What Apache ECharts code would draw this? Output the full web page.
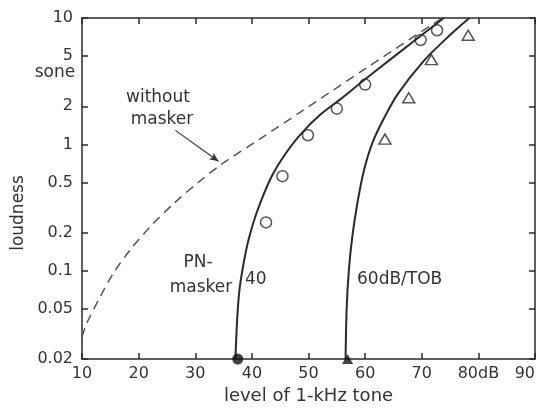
<!DOCTYPE html>
<html>
<head>
<meta charset="utf-8">
<script src="https://cdn.jsdelivr.net/npm/echarts@6/dist/echarts.min.js"></script>
<style>
  html, body { margin: 0; padding: 0; background: #fff; }
  #chart { width: 542px; height: 408px; }
</style>
</head>
<body>
<div id="chart"></div>
<script>
// axis ticks
const xTicks = [10, 20, 30, 40, 50, 60, 70, 80, 90];
const xTickLabels = ['10', '20', '30', '40', '50', '60', '70', '80dB', '90'];
const yTicks = [0.02, 0.05, 0.1, 0.2, 0.5, 1, 2, 5, 10];
const yTickLabels = ['0.02', '0.05', '0.1', '0.2', '0.5', '1', '2', '5', '10'];

// without masker (dashed curve)
const quietLevel = [10, 10.8, 13.2, 15.5, 18.5, 22.0, 26.2, 30.3, 34.4, 41.5, 48.5, 60.4, 73.6];
const quietLoudness = [0.030, 0.038, 0.062, 0.095, 0.146, 0.222, 0.34, 0.49, 0.684, 1.11, 1.79, 4.07, 10];

// PN-masker 40 dB/TOB (solid curve)
const pn40Level = [37.1, 37.4, 37.8, 38.55, 39.4, 40.6, 42.1, 43.6, 45.75, 48.6, 52.1, 55.6, 60.0, 64.7, 73.9];
const pn40Loudness = [0.02, 0.041, 0.070, 0.115, 0.175, 0.267, 0.403, 0.57, 0.82, 1.20, 1.72, 2.27, 3.27, 4.79, 10];

// PN-masker 60 dB/TOB (solid curve)
const pn60Level = [56.55, 56.73, 57.13, 57.73, 58.62, 59.79, 61.3, 63.3, 65.75, 70.4, 74.8, 78.4];
const pn60Loudness = [0.02, 0.049, 0.101, 0.185, 0.34, 0.62, 1.03, 1.6, 2.5, 4.6, 7.2, 10];

// measured points
const circleLevel = [42.5, 45.4, 49.9, 55.0, 60.0, 69.8, 72.7];
const circleLoudness = [0.241, 0.56, 1.18, 1.92, 2.97, 6.7, 8.0];
const triangleLevel = [63.5, 67.7, 71.7, 78.2];
const triangleLoudness = [1.10, 2.34, 4.68, 7.3];
// masked thresholds (filled symbols on the bottom axis)
const thresholdCircle = [37.5, 0.02];
const thresholdTriangle = [56.9, 0.02];

// arrow from "without masker" label to the dashed curve
const arrowFrom = [26.5, 1.29];
const arrowTo = [34.1, 0.734];

const zip = (a, b) => a.map((v, i) => [v, b[i]]);

const font = 'DejaVu Sans';
const ink = '#2a2a2a';
const axisLine = { lineStyle: { color: ink, width: 1.5 } };
const tickIn = { inside: true, length: 6, lineStyle: { color: ink, width: 1.5 } };

const chart = echarts.init(document.getElementById('chart'), null, { renderer: 'canvas' });

const text = (t, x, y, align, extra) => ({
  type: 'text',
  x: x, y: y,
  style: {
    text: t, font: '17px "' + font + '"', fill: '#333',
    align: align || 'center', verticalAlign: 'middle'
  },
  ...extra
});

chart.setOption({
  animation: false,
  backgroundColor: '#fff',
  grid: { left: 82, right: 7, top: 18, bottom: 49, containLabel: false, outerBoundsMode: 'none' },
  xAxis: [{
    type: 'value', min: 10, max: 90, interval: 10, position: 'bottom',
    axisLine: axisLine, axisTick: tickIn, splitLine: { show: false },
    axisLabel: {
      fontFamily: font, fontSize: 16, color: '#333', margin: 7,
      alignMaxLabel: 'right',
      formatter: v => xTickLabels[xTicks.indexOf(v)]
    },
    name: 'level of 1-kHz tone', nameLocation: 'middle', nameGap: 28,
    nameTextStyle: { fontFamily: font, fontSize: 18, color: '#333' }
  }, {
    type: 'value', min: 10, max: 90, interval: 10, position: 'top',
    axisLine: axisLine, axisTick: tickIn, splitLine: { show: false },
    axisLabel: { show: false }
  }],
  yAxis: [{
    type: 'log', logBase: 10, min: 0.02, max: 10, position: 'left',
    axisLine: axisLine, splitLine: { show: false },
    axisTick: { ...tickIn, customValues: yTicks },
    axisLabel: {
      customValues: yTicks, fontFamily: font, fontSize: 16, color: '#333', margin: 9,
      formatter: v => {
        const i = yTicks.findIndex(t => Math.abs(t - v) < t * 1e-6);
        return i >= 0 ? yTickLabels[i] : '';
      }
    }
  }, {
    type: 'log', logBase: 10, min: 0.02, max: 10, position: 'right',
    axisLine: axisLine, splitLine: { show: false },
    axisTick: { ...tickIn, customValues: yTicks },
    axisLabel: { show: false }
  }],
  series: [{
    name: 'without masker', type: 'line', data: zip(quietLevel, quietLoudness),
    showSymbol: false, smooth: 0.3,
    lineStyle: { color: '#555', width: 1.5, type: [9, 6] },
    markLine: {
      silent: true, symbol: ['none', 'arrow'], symbolSize: [6, 9],
      lineStyle: { type: 'solid', color: '#333', width: 1.2 },
      label: { show: false },
      data: [[{ coord: arrowFrom }, { coord: arrowTo }]]
    }
  }, {
    name: 'PN 40', type: 'line', data: zip(pn40Level, pn40Loudness),
    showSymbol: false, smooth: 0.35,
    lineStyle: { color: ink, width: 2 }
  }, {
    name: 'PN 60', type: 'line', data: zip(pn60Level, pn60Loudness),
    showSymbol: false, smooth: 0.3,
    lineStyle: { color: ink, width: 2 }
  }, {
    type: 'scatter', data: zip(circleLevel, circleLoudness),
    symbol: 'circle', symbolSize: 11, clip: false,
    itemStyle: { color: 'transparent', borderColor: ink, borderWidth: 1.5 }
  }, {
    type: 'scatter', data: zip(triangleLevel, triangleLoudness),
    symbol: 'triangle', symbolSize: [12, 10], clip: false,
    itemStyle: { color: 'transparent', borderColor: ink, borderWidth: 1.5 }
  }, {
    type: 'scatter', data: [thresholdCircle],
    symbol: 'circle', symbolSize: 11, clip: false, z: 5,
    itemStyle: { color: '#111' }
  }, {
    type: 'scatter', data: [thresholdTriangle],
    symbol: 'triangle', symbolSize: [11, 10], clip: false, z: 5,
    itemStyle: { color: '#111' }
  }],
  graphic: [
    text('sone', 55, 73),
    text('without', 158, 98),
    text('masker', 162, 120),
    text('PN-', 198, 263),
    text('masker', 201, 288),
    text('40', 245, 280, 'left'),
    text('60dB/TOB', 357, 280, 'left'),
    text('loudness', 19, 213, 'center', { rotation: Math.PI / 2, font: '18px "' + font + '"' })
  ]
});
</script>
</body>
</html>
